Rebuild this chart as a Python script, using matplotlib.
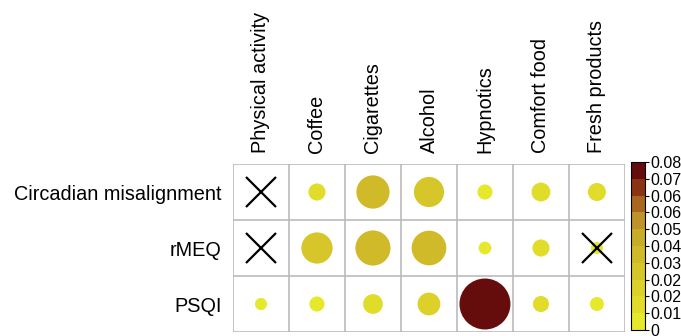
import matplotlib.pyplot as plt
import numpy as np
from matplotlib.colors import ListedColormap, BoundaryNorm
from matplotlib.patches import Circle
import matplotlib.cm as cm

plt.rcParams['font.family'] = ['Liberation Sans', 'DejaVu Sans']

rows = ["Circadian misalignment", "rMEQ", "PSQI"]
cols = ["Physical activity", "Coffee", "Cigarettes", "Alcohol", "Hypnotics",
        "Comfort food", "Fresh products"]

circadian = [0.0, 0.009, 0.034, 0.028, 0.007, 0.011, 0.010]
rmeq = [0.0, 0.030, 0.038, 0.037, 0.005, 0.009, 0.0045]
psqi = [0.0045, 0.007, 0.012, 0.016, 0.080, 0.008, 0.006]
values = np.array([circadian, rmeq, psqi])

# not significant cells get a cross
crossed = [(0, 0), (1, 0), (1, 6)]

bar_ticks = np.linspace(0, 0.08, 11)
bar_labels = ["0", "0.01", "0.02", "0.02", "0.03", "0.04", "0.05", "0.06",
              "0.06", "0.07", "0.08"]
palette = ["#e6e82c", "#e1dc2a", "#dcd12a", "#d6c62a", "#d0ba2a",
           "#c9ab2a", "#be932a", "#a8661f", "#8a3414", "#650c0c"]

cmap = ListedColormap(palette)
norm = BoundaryNorm(bar_ticks, cmap.N)
vmax = 0.08

fig = plt.figure(figsize=(6.81, 3.36), dpi=100)
ax = fig.add_axes([0.3421, 0.0119, 0.5756, 0.5])
cax = fig.add_axes([0.9266, 0.0179, 0.0206, 0.5])

nr, nc = values.shape
for i in range(nr):
    for j in range(nc):
        v = values[i, j]
        if v > 0:
            r = 0.455 * np.sqrt(v / vmax)
            ax.add_patch(Circle((j + 0.5, i + 0.5), r, color=cmap(norm(v)), lw=0))

for i, j in crossed:
    ax.plot([j + 0.5], [i + 0.5], marker='x', color='black', markersize=21.5,
            markeredgewidth=1.6)

for k in range(nc + 1):
    ax.axvline(k, color='#bbbbbb', lw=1.2)
for k in range(nr + 1):
    ax.axhline(k, color='#bbbbbb', lw=1.2)

ax.set_xlim(0, nc)
ax.set_ylim(nr, 0)
ax.set_xticks(np.arange(nc) + 0.5)
ax.set_xticklabels(cols, rotation=90, fontsize=14.3)
ax.xaxis.tick_top()
ax.set_yticks(np.arange(nr) + 0.5)
ax.set_yticklabels(rows, fontsize=14.3)
ax.tick_params(length=0, pad=8)
for s in ax.spines.values():
    s.set_visible(False)

cb = fig.colorbar(cm.ScalarMappable(norm=norm, cmap=cmap), cax=cax,
                  ticks=bar_ticks)
cb.ax.set_yticklabels(bar_labels, fontsize=11.5)
cb.ax.tick_params(length=3, width=0.8, pad=1)
cb.outline.set_linewidth(0.8)

fig.savefig("out.png", dpi=100)
